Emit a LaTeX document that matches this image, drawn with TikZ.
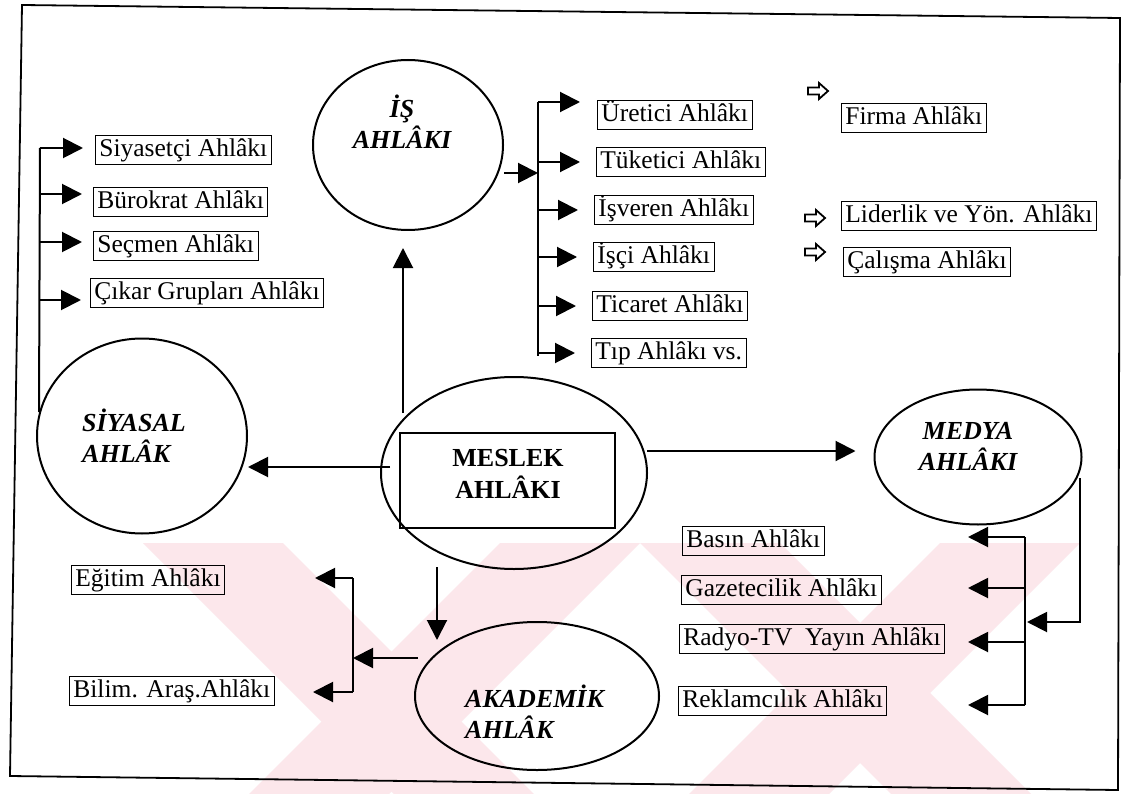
\documentclass[tikz,border=0pt]{standalone}
\usepackage{fontspec}
\setmainfont{Liberation Serif}
\usetikzlibrary{arrows.meta,shapes.geometric}
\definecolor{wm}{RGB}{252,231,235}
\begin{document}
\begin{tikzpicture}[x=1pt,y=-1pt,
  arr/.style={line width=2pt,-{Triangle[length=20pt,width=20pt]}},
  ln/.style={line width=2pt},
  lbl/.style={draw,line width=0.8pt,anchor=west,inner xsep=4pt,inner ysep=2.5pt,
    text height=18pt,text depth=5.5pt,font=\fontsize{25.5}{28}\selectfont},
  ell/.style={draw,ellipse,line width=2pt,inner sep=0pt},
  etext/.style={font=\fontsize{26}{31}\selectfont\bfseries\itshape,inner sep=0pt},
  harrow/.pic={\draw[line width=1.8pt,fill=white,line join=miter]
    (-10,-3.5) -- (1,-3.5) -- (1,-8) -- (10,0) -- (1,8) -- (1,3.5) -- (-10,3.5) -- cycle;}
]
\useasboundingbox (0,0) rectangle (1126,794);
\fill[white] (0,0) rectangle (1126,794);

% watermark
\begin{scope}
\clip (140,543) rectangle (1080,794);
\fill[wm] (143,543) -- (283,543) -- (534,794) -- (394,794) -- cycle;
\fill[wm] (500,543) -- (640,543) -- (389,794) -- (249,794) -- cycle;
\fill[wm] (640,543) -- (780,543) -- (1031,794) -- (891,794) -- cycle;
\fill[wm] (940,543) -- (1080,543) -- (829,794) -- (689,794) -- cycle;
\end{scope}

% frame
\draw[line width=1.8pt] (22,5) -- (1120,18) -- (1118,790) -- (10,776) -- cycle;

% ellipses
\node[ell,minimum width=190pt,minimum height=170pt] (isE) at (408,145) {};
\node[etext,align=center] (isT) at (402,122) {İŞ\\AHLÂKI};
\node[ell,minimum width=210pt,minimum height=195pt] (sE) at (142,436) {};
\node[etext,align=left,anchor=west] (sT) at (82,436) {SİYASAL\\AHLÂK};
\node[ell,minimum width=266pt,minimum height=192pt] (mE) at (514,473) {};
\node[draw,line width=1.5pt,minimum width=215pt,minimum height=95pt,inner sep=0pt] (mB) at (507.5,480.5) {};
\node[font=\fontsize{26}{32}\selectfont\bfseries,align=center,inner sep=0pt] (mT) at (508,474) {MESLEK\\AHLÂKI};
\node[ell,minimum width=244pt,minimum height=148pt] (aE) at (537,696) {};
\node[etext,align=left,anchor=west] (aT) at (465,712) {AKADEMİK\\AHLÂK};
\node[ell,minimum width=207pt,minimum height=135pt] (dE) at (978,457) {};
\node[etext,align=center] (dT) at (968,446) {MEDYA\\AHLÂKI};

% labels
\node[lbl] (u1) at (597,115) {Üretici Ahlâkı};
\node[lbl] (u2) at (596,162) {Tüketici Ahlâkı};
\node[lbl] (u3) at (594,210) {İşveren Ahlâkı};
\node[lbl] (u4) at (593,257) {İşçi Ahlâkı};
\node[lbl] (u5) at (592,306) {Ticaret Ahlâkı};
\node[lbl] (u6) at (591,353) {Tıp Ahlâkı vs.};
\node[lbl] (f1) at (841,118) {Firma Ahlâkı};
\node[lbl] (f2) at (841,216) {Liderlik ve Yön. Ahlâkı};
\node[lbl] (f3) at (843,262) {Çalışma Ahlâkı};
\node[lbl] (s1) at (95,150) {Siyasetçi Ahlâkı};
\node[lbl] (s2) at (93,202) {Bürokrat Ahlâkı};
\node[lbl] (s3) at (93,246) {Seçmen Ahlâkı};
\node[lbl] (s4) at (90,293) {Çıkar Grupları Ahlâkı};
\node[lbl] (e1) at (71,580) {Eğitim Ahlâkı};
\node[lbl] (e2) at (69,691) {Bilim. Araş.Ahlâkı};
\node[lbl] (d1) at (682,541) {Basın Ahlâkı};
\node[lbl] (d2) at (681,590) {Gazetecilik Ahlâkı};
\node[lbl] (d3) at (679,639) {Radyo-TV\ \ Yayın Ahlâkı};
\node[lbl] (d4) at (678,701) {Reklamcılık Ahlâkı};

% hollow arrows
\pic (h1) at (818,91) {harrow};
\pic (h2) at (815,218) {harrow};
\pic (h3) at (815,252) {harrow};

% MESLEK connectors
\coordinate (mu) at (403,413);
\draw[arr,shorten >=17pt] (mu) -- (mu |- isE.south);
\coordinate (ml) at (390,467);
\draw[arr] (ml) -- (ml -| sE.east);
\coordinate (mr) at (647,451);
\draw[arr,shorten >=18pt] (mr) -- (mr -| dE.west);
\coordinate (md) at (437,567);
\coordinate (mdt) at (437,640);
\draw[arr] (md) -- (mdt);

% IS group
\coordinate (ib) at (538,173);
\coordinate (ibT) at (538,102);
\coordinate (ibB) at (538,356);
\draw[arr] (isE.east |- ib) -- (ib);
\draw[ln] (ibT) -- (ibB);
\draw[arr,shorten >=17pt] (ibT) -- (ibT -| u1.west);
\foreach \n in {u2,u3,u4,u5,u6}{
  \draw[arr,shorten >=16pt] (ibT |- \n.west) -- (\n.west);
}

% SIYASAL group
\coordinate (sb1) at (40,148);
\coordinate (sb2) at (40,194);
\coordinate (sb3) at (40,242);
\coordinate (sb4) at (40,300);
\coordinate (sbB) at (39,412);
\draw[ln] (sb1) -- (sbB);
\draw[arr,shorten >=12pt] (sb1) -- (sb1 -| s1.west);
\draw[arr,shorten >=11pt] (sb2) -- (sb2 -| s2.west);
\draw[arr,shorten >=11pt] (sb3) -- (sb3 -| s3.west);
\draw[arr,shorten >=9pt] (sb4) -- (sb4 -| s4.west);

% AKADEMIK group
\coordinate (ab1) at (353,578);
\coordinate (ab2) at (353,692);
\coordinate (abm) at (353,658);
\coordinate (ao) at (418,658);
\coordinate (et1) at (315,578);
\coordinate (et2) at (313,692);
\draw[ln] (ab1) -- (ab2);
\draw[arr] (ao) -- (abm);
\draw[arr] (ab1) -- (et1);
\draw[arr] (ab2) -- (et2);

% MEDYA group
\coordinate (mb1) at (1025,537);
\coordinate (mb2) at (1025,588);
\coordinate (mb3) at (1025,642);
\coordinate (mb4) at (1025,705);
\coordinate (mt) at (968,0);
\coordinate (mo) at (1080,478);
\coordinate (mi) at (1027,622);
\draw[ln] (mb1) -- (mb4);
\foreach \c in {mb1,mb2,mb3,mb4}{
  \draw[arr] (\c) -- (\c -| mt);
}
\draw[arr] (mo) -- (mo |- mi) -- (mi);
\end{tikzpicture}
\end{document}
